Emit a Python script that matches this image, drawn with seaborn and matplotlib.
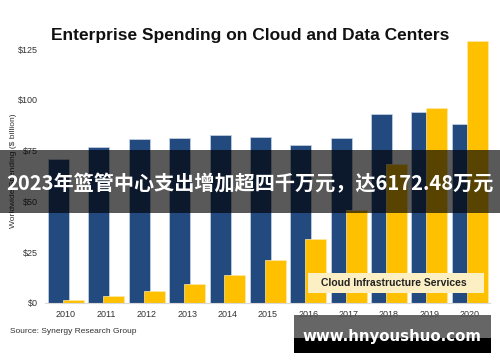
import seaborn as sns
import matplotlib.pyplot as plt
import pandas as pd
from matplotlib.patches import Rectangle

# values ($ billion)
years = [2010, 2011, 2012, 2013, 2014, 2015, 2016, 2017, 2018, 2019, 2020]
data_center = [71, 77, 81, 81.5, 83, 82, 78, 81.5, 93, 94, 88]
cloud_infra = [1.5, 3.5, 6, 9.5, 14, 21, 31.5, 46, 68.5, 96, 129]
y_ticks = [0, 25, 50, 75, 100, 125]

blue = "#234a7e"
gold = "#ffc000"

sns.set_theme(style="white")
plt.rcParams['font.family'] = ['Liberation Sans', 'DejaVu Sans']

fig = plt.figure(figsize=(5, 3.62), dpi=100)
ax = fig.add_axes([0.09, 0.163, 0.89, 0.729])

shift = 0.185
df_dc = pd.DataFrame({'year': [y - shift for y in years], 'value': data_center})
df_ci = pd.DataFrame({'year': [y + shift for y in years], 'value': cloud_infra})

sns.barplot(data=df_dc, x='year', y='value', native_scale=True, width=0.52,
            color=blue, saturation=1, edgecolor='#c9d5e8', linewidth=0.5, ax=ax)
sns.barplot(data=df_ci, x='year', y='value', native_scale=True, width=0.52,
            color=gold, saturation=1, edgecolor='#ffe9a8', linewidth=0.5, ax=ax)

ax.set_xlim(2009.48, 2020.5)
ax.set_ylim(0, 130)
ax.set_xticks(years)
ax.set_xticklabels([str(y) for y in years], fontsize=6.5, color='#333333')
ax.set_yticks(y_ticks)
ax.set_yticklabels([f"${t}" for t in y_ticks], fontsize=6.5, color='#333333')
ax.tick_params(axis='both', length=0, pad=5)
ax.set_xlabel('')
ax.set_ylabel('Worldwide Spending ($ billion)', fontsize=6, color='#333333', labelpad=1)
for side in ['top', 'right', 'left']:
    ax.spines[side].set_visible(False)
ax.spines['bottom'].set_color('#d9d9d9')
ax.spines['bottom'].set_linewidth(0.8)

# legend-like label box
fig.patches.append(Rectangle((308 / 500, 1 - 293 / 362), 176 / 500, 20 / 362, transform=fig.transFigure,
                             facecolor='#fcefc4', edgecolor='none', zorder=3))
fig.text(394 / 500, 1 - 283 / 362, 'Cloud Infrastructure Services', ha='center', va='center',
         fontsize=7.5, fontweight='bold', color='#222222', zorder=4)

fig.text(0.5, 0.903, 'Enterprise Spending on Cloud and Data Centers', ha='center', va='center',
         fontsize=12.5, fontweight='bold', color='#111111')
fig.text(0.02, 0.085, 'Source: Synergy Research Group', ha='left', va='center',
         fontsize=6, color='#333333')

# overlay banner
fig.patches.append(Rectangle((0, 1 - 213 / 362), 1, 63 / 362, transform=fig.transFigure,
                             facecolor='black', alpha=0.65, edgecolor='none', zorder=5))
fig.text(0.5, 1 - 184 / 362, '2023年篮管中心支出增加超四千万元，达6172.48万元',
         ha='center', va='center', fontsize=14.5, fontweight='bold', color='white',
         family=['Noto Sans CJK SC', 'DejaVu Sans'], zorder=6)

# watermark
fig.patches.append(Rectangle((294 / 500, 1 - 338 / 362), 197 / 500, 23 / 362, transform=fig.transFigure,
                             facecolor='#555555', alpha=0.9, edgecolor='none', zorder=5))
fig.patches.append(Rectangle((294 / 500, 1 - 353 / 362), 197 / 500, 15 / 362, transform=fig.transFigure,
                             facecolor='black', edgecolor='none', zorder=5))
fig.text(392 / 500, 1 - 336 / 362, 'www.hnyoushuo.com', ha='center', va='center',
         fontsize=10.8, fontweight='bold', color='white', family=['DejaVu Sans'], zorder=6)

fig.savefig('out.png', dpi=100)
